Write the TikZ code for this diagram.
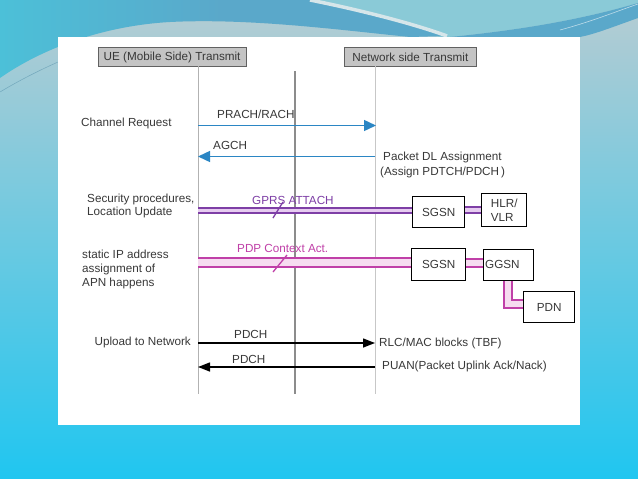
\documentclass[tikz,border=0pt]{standalone}
\usepackage{fontspec}
\setmainfont{Liberation Sans}
\usetikzlibrary{arrows.meta}
\definecolor{txt}{HTML}{383838}
\definecolor{bluearr}{HTML}{2B86C4}
\definecolor{purp}{HTML}{7E3FA6}
\definecolor{purpin}{HTML}{E6CCF0}
\definecolor{mag}{HTML}{C040A8}
\definecolor{magin}{HTML}{F6DCF0}
\definecolor{hdrfill}{HTML}{C4C4C4}
\definecolor{bgtop}{HTML}{B7CCD2}
\definecolor{bgbot}{HTML}{20C6F0}
\definecolor{bgblue}{HTML}{5AA8CA}
\definecolor{bgcyan}{HTML}{4CC0D8}
\definecolor{bgteal}{HTML}{8ACAD7}
\definecolor{swoosh}{HTML}{D6E6EA}
\begin{document}
\begin{tikzpicture}[x=1pt,y=-1pt,
  every node/.style={font=\fontsize{11.7}{13.6}\selectfont, text=txt, inner sep=0pt},
  hdr/.style={draw=black!62, fill=hdrfill, line width=1.2pt, minimum height=19pt, anchor=north west},
  netbox/.style={draw=black, fill=white, line width=1.4pt, anchor=north west},
  lifeline/.style={draw=black!30, line width=0.9pt},
  midline/.style={draw=black!45, line width=1.8pt},
  bluemsg/.style={draw=bluearr, line width=1.4pt, -{Triangle[length=12pt,width=11pt]}},
  blackmsg/.style={draw=black, line width=1.4pt, -{Triangle[length=12pt,width=9pt]}},
  gprsline/.style={draw=purp, line width=1.8pt, double=purpin, double distance=3.6pt},
  pdpline/.style={draw=mag, line width=1.8pt, double=magin, double distance=7.2pt},
  pdpshort/.style={draw=mag, line width=1.8pt, double=magin, double distance=5.6pt},
]
\useasboundingbox (0,0) rectangle (638,479);
% background
\shade[top color=bgtop, bottom color=bgbot] (0,0) rectangle (638,479);
\fill[bgteal] (300,0) -- (638,0) -- (638,3) .. controls (580,20) and (520,30) .. (450,37) -- (440,37) -- cycle;
\shade[left color=bgcyan, right color=bgblue, middle color=bgblue]
  (0,0) -- (310,0) .. controls (370,12) and (420,26) .. (445,36) -- (410,37)
  .. controls (340,30) and (250,18) .. (170,22) .. controls (100,26) and (40,50) .. (0,78) -- cycle;
\fill[bgblue] (450,37) .. controls (520,30) and (580,20) .. (638,3) -- (638,18)
  .. controls (610,28) and (595,34) .. (580,37) -- cycle;
\draw[swoosh, line width=3.5pt] (310,0) .. controls (370,12) and (420,26) .. (447,36);
\draw[white, line width=0.6pt, opacity=0.6] (560,30) .. controls (590,22) and (615,12) .. (638,4);
\draw[bgblue!80!black, line width=0.5pt, opacity=0.5] (0,92) .. controls (20,80) and (40,70) .. (58,62);
% white panel
\fill[white] (58,37) rectangle (580,425);

% headers
\node[hdr, minimum width=148pt] (ueh) at (97.5,47) {UE (Mobile Side) Transmit};
\node[hdr, minimum width=132.5pt] (nwh) at (343.5,47) {Network side Transmit};

% lifelines
\coordinate (uetop) at (198,66);
\coordinate (uebot) at (198,394);
\coordinate (midtop) at (295,71);
\coordinate (midbot) at (295,394);
\coordinate (nwtop) at (375,66);
\coordinate (nwbot) at (375,394);
\draw[lifeline] (uetop) -- (uebot);
\draw[midline] (midtop) -- (midbot);
\draw[lifeline, draw=black!22] (nwtop) -- (nwbot);

% network boxes
\node[netbox, minimum width=52pt, minimum height=31pt] (sgsn1) at (412,196) {SGSN};
\node[netbox, minimum width=45pt, minimum height=33pt, align=left] (hlr) at (481,193) {HLR/\\VLR};
\node[netbox, minimum width=54pt, minimum height=32pt] (sgsn2) at (411,248) {SGSN};
\node[netbox, minimum width=50pt, minimum height=31pt] (ggsn) at (483,249) {};
\node[anchor=west] (ggsnt) at (485,264.5) {GGSN};
\node[netbox, minimum width=51pt, minimum height=31pt] (pdn) at (523,291) {PDN};

% message 1
\coordinate (m1a) at (198,125.5);
\coordinate (m1b) at (376,125.5);
\draw[bluemsg] (m1a) -- (m1b);
\node[anchor=west] (cr) at (81,123) {Channel Request};
\node[anchor=west] (prach) at (217,114) {PRACH/RACH};

% message 2
\coordinate (m2a) at (375,156.5);
\coordinate (m2b) at (198,156.5);
\draw[bluemsg] (m2a) -- (m2b);
\node[anchor=west] (agch) at (213,145) {AGCH};
\node[anchor=west] (pdl) at (383,157.5) {Packet DL Assignment};
\node[anchor=west] (asg) at (380,172) {(Assign PDTCH/PDCH\,)};

% GPRS attach
\coordinate (g1a) at (198,210.5);
\coordinate (g1b) at (sgsn1.west |- g1a);
\draw[gprsline] (g1a) -- (g1b);
\draw[gprsline] (sgsn1.east |- 0,210) -- (hlr.west |- 0,210);
\coordinate (s1a) at (273,218);
\coordinate (s1b) at (283,202);
\draw[purp, line width=1.3pt] (s1a) -- (s1b);
\node[anchor=west, text=purp] (gprs) at (252,200) {GPRS ATTACH};
\node[anchor=west, align=left] (sec) at (87,206) {Security procedures,\\Location Update};

% PDP context
\coordinate (p1a) at (198,262.7);
\coordinate (p1b) at (sgsn2.west |- p1a);
\draw[pdpline] (p1a) -- (p1b);
\draw[pdpshort] (sgsn2.east |- 0,263) -- (ggsn.west |- 0,263);
\coordinate (s2a) at (273,272);
\coordinate (s2b) at (287,255);
\draw[mag, line width=1.3pt] (s2a) -- (s2b);
\node[anchor=west, text=mag] (pdp) at (237,248) {PDP Context Act.};
\node[anchor=west, align=left] (sip) at (82,269.5) {static IP address\\assignment of\\APN happens};
\coordinate (gb) at (508,281);
\coordinate (gc) at (508,304);
\draw[pdpline, double distance=6.4pt] (gb) -- (gc) -- (pdn.west |- gc);

% upload
\coordinate (u1a) at (198,343);
\coordinate (u1b) at (375,343);
\draw[blackmsg] (u1a) -- (u1b);
\node[anchor=east] (upl) at (191,342) {Upload to Network};
\node[anchor=west] (pd1) at (234,334) {PDCH};
\node[anchor=west] (rlc) at (379,343.5) {RLC/MAC blocks (TBF)};

% PUAN
\coordinate (u2a) at (375,367);
\coordinate (u2b) at (198,367);
\draw[blackmsg] (u2a) -- (u2b);
\node[anchor=west] (pd2) at (232,359.5) {PDCH};
\node[anchor=west] (puan) at (382,366.5) {PUAN(Packet Uplink Ack/Nack)};
\end{tikzpicture}
\end{document}
